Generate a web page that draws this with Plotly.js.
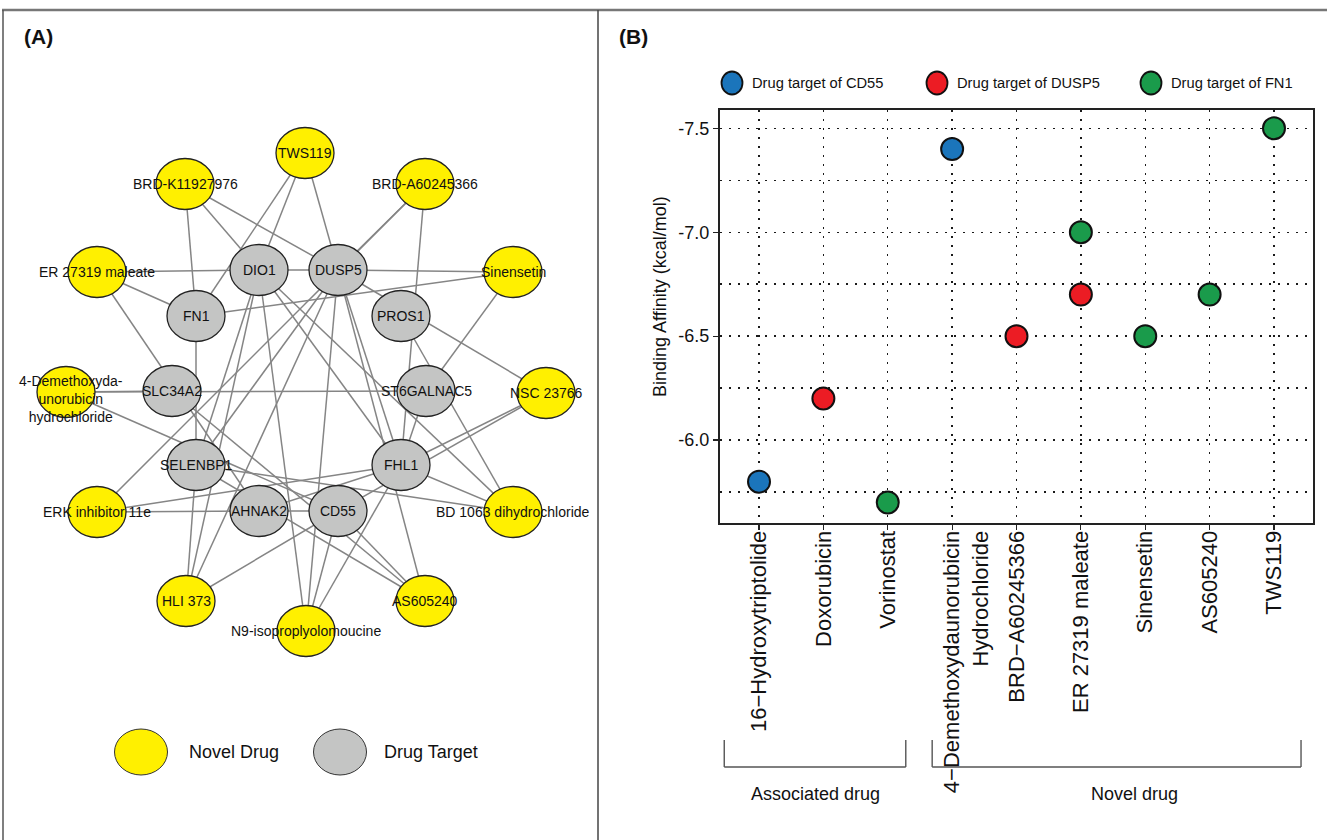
<!DOCTYPE html>
<html>
<head>
<meta charset="utf-8">
<script src="https://cdn.plot.ly/plotly-3.0.1.min.js"></script>
<style>html,body{margin:0;padding:0;background:#fff}#chart{width:1327px;height:840px}</style>
</head>
<body>
<div id="chart"></div>
<script>
// ================= DATA =================
// ---- Panel A: drug / target network ----
const nodeNames = ['TWS119','BRD-K11927976','BRD-A60245366','ER 27319 maleate','Sinensetin',
  '4-Demethoxydaunorubicin hydrochloride','NSC 23766','ERK inhibitor 11e','BD 1063 dihydrochloride',
  'HLI 373','AS605240','N9-isoproplyolomoucine',
  'DIO1','DUSP5','FN1','PROS1','SLC34A2','ST6GALNAC5','SELENBP1','FHL1','AHNAK2','CD55'];
const nodeLabels = ['TWS119','BRD-K11927976','BRD-A60245366','ER 27319 maleate','Sinensetin',
  '4-Demethoxyda-<br>unorubicin<br>hydrochloride','NSC 23766','ERK inhibitor 11e','BD 1063 dihydrochloride',
  'HLI 373','AS605240','N9-isoproplyolomoucine',
  'DIO1','DUSP5','FN1','PROS1','SLC34A2','ST6GALNAC5','SELENBP1','FHL1','AHNAK2','CD55'];
const nodeTypes = ['drug','drug','drug','drug','drug','drug','drug','drug','drug','drug','drug','drug',
  'target','target','target','target','target','target','target','target','target','target'];
// network layout coordinates (layout space, same units as panel A pixels)
const nodeX = [305,185,425,97,513,66,546,97,513,186,425,306, 259,338,196,401,172,426,196,401,259,338];
const nodeY = [153,184,184,272,272,392,393,512,512,601,601,631, 270,270,316,316,391,391,465,465,511,511];

const edgeFrom = ['BRD-K11927976','BRD-K11927976','BRD-K11927976','TWS119','TWS119','TWS119',
  'BRD-A60245366','BRD-A60245366','BRD-A60245366','ER 27319 maleate','ER 27319 maleate','ER 27319 maleate',
  'Sinensetin','Sinensetin','Sinensetin','DIO1','DUSP5','PROS1',
  '4-Demethoxydaunorubicin hydrochloride','4-Demethoxydaunorubicin hydrochloride','4-Demethoxydaunorubicin hydrochloride',
  'FN1','DIO1','DUSP5','DUSP5','DIO1','DUSP5','ERK inhibitor 11e','ERK inhibitor 11e','AHNAK2',
  'SELENBP1','HLI 373','DUSP5','DUSP5','DIO1','ST6GALNAC5','NSC 23766','NSC 23766','FHL1',
  'FHL1','FHL1','CD55','CD55','SLC34A2','DIO1','SELENBP1','SELENBP1','DIO1'];
const edgeTo = ['FN1','DIO1','DUSP5','FN1','DIO1','DUSP5',
  'DUSP5','ERK inhibitor 11e','FHL1','DIO1','FN1','AHNAK2',
  'DUSP5','FN1','ST6GALNAC5','DUSP5','NSC 23766','BD 1063 dihydrochloride',
  'SLC34A2','ST6GALNAC5','CD55',
  'SELENBP1','SELENBP1','SELENBP1','HLI 373','N9-isoproplyolomoucine','N9-isoproplyolomoucine','FHL1','AHNAK2','CD55',
  'HLI 373','CD55','FHL1','AS605240','FHL1','FHL1','FHL1','CD55','AHNAK2',
  'BD 1063 dihydrochloride','N9-isoproplyolomoucine','N9-isoproplyolomoucine','AS605240','AS605240',
  'BD 1063 dihydrochloride','BD 1063 dihydrochloride','AS605240','HLI 373'];

// ---- Panel B: binding affinity ----
const drugCategories = ['16\u2212Hydroxytriptolide','Doxorubicin','Vorinostat',
  '4\u2212Demethoxydaunorubicin Hydrochloride','BRD\u2212A60245366','ER 27319 maleate',
  'Sinensetin','AS605240','TWS119'];
const drugTickText = ['16\u2212Hydroxytriptolide','Doxorubicin','Vorinostat',
  '\u00a0<br>4\u2212Demethoxydaunorubicin<br>Hydrochloride','BRD\u2212A60245366','ER 27319 maleate',
  'Sinensetin','AS605240','TWS119'];
const pointDrug = ['16\u2212Hydroxytriptolide','Doxorubicin','Vorinostat',
  '4\u2212Demethoxydaunorubicin Hydrochloride','BRD\u2212A60245366','ER 27319 maleate','ER 27319 maleate',
  'Sinensetin','AS605240','TWS119'];
const pointAffinity = [-5.8,-6.2,-5.7,-7.4,-6.5,-6.7,-7.0,-6.5,-6.7,-7.5];
const pointTarget = ['CD55','DUSP5','FN1','CD55','DUSP5','DUSP5','FN1','FN1','FN1','FN1'];
const targetNames = ['CD55','DUSP5','FN1'];
const yTickVals = [-7.5,-7.0,-6.5,-6.0];
const yTickText = ['-7.5','-7.0','-6.5','-6.0'];
const groupLabels = ['Associated drug','Novel drug'];
const groupFirst = [0,3];
const groupLast = [2,8];

// ================= STYLE =================
const W = 1327, H = 840;
const FONT = 'Liberation Sans, Arial, Helvetica, sans-serif';
const YELLOW = '#FFF000', GRAY = '#C4C5C4';
const targetColors = ['#1B75BB','#EC1C24','#1A9B4B'];
const NODE_RX = 29, NODE_RY = 25.5;
const GRID = {color:'#1a1a1a', dash:'2px,7px', width:1.4};
const px = x => x / W, py = y => 1 - y / H;

const traces = [];
const shapes = [];
const annotations = [];

// ---- Panel A edges ----
const idx = n => nodeNames.indexOf(n);
const ex = [], ey = [];
edgeFrom.forEach((f, i) => {
  const a = idx(f), b = idx(edgeTo[i]);
  if (a < 0 || b < 0) return;
  ex.push(nodeX[a], nodeX[b], null);
  ey.push(nodeY[a], nodeY[b], null);
});
traces.push({type:'scatter', mode:'lines', x:ex, y:ey, xaxis:'x2', yaxis:'y2',
  line:{color:'#858585', width:1.5}, hoverinfo:'skip', showlegend:false});

// ---- Panel A nodes ----
const labelShift = {'4-Demethoxydaunorubicin hydrochloride':[5,-7]};
nodeNames.forEach((n, i) => {
  shapes.push({type:'circle', xref:'x2', yref:'y2', layer:'above',
    x0:nodeX[i]-NODE_RX, x1:nodeX[i]+NODE_RX, y0:nodeY[i]-NODE_RY, y1:nodeY[i]+NODE_RY,
    fillcolor: nodeTypes[i]==='drug' ? YELLOW : GRAY, line:{color:'#222', width:1.3}});
  const s = labelShift[n] || [0,0];
  annotations.push({xref:'x2', yref:'y2', x:nodeX[i], y:nodeY[i], text:nodeLabels[i], showarrow:false,
    xanchor:'center', yanchor:'middle',
    xshift:s[0], yshift:s[1], font:{family:FONT, size:14, color:'#111'}, align:'center'});
});

// ---- Panel B scatter ----
targetNames.forEach((t, k) => {
  const xs = [], ys = [];
  pointTarget.forEach((pt, i) => { if (pt === t) { xs.push(pointDrug[i]); ys.push(pointAffinity[i]); } });
  traces.push({type:'scatter', mode:'markers', x:xs, y:ys, xaxis:'x', yaxis:'y',
    name:'Drug target of ' + t, cliponaxis:false, showlegend:false,
    marker:{color:targetColors[k], size:22, line:{color:'#111', width:2}}, hoverinfo:'x+y'});
});

// panel B legend (drawn as key symbols + text so it cannot push the margins)
const legendCX = [732, 937, 1151], LEG_Y = 83;
targetNames.forEach((t, k) => {
  shapes.push({type:'circle', xref:'paper', yref:'paper',
    x0:px(legendCX[k]-10.5), x1:px(legendCX[k]+10.5), y0:py(LEG_Y+11.5), y1:py(LEG_Y-11.5),
    fillcolor:targetColors[k], line:{color:'#111', width:1.8}});
  annotations.push({xref:'paper', yref:'paper', x:px(legendCX[k]+18), y:py(LEG_Y), xanchor:'left', yanchor:'middle',
    text:'Drug target of ' + t, showarrow:false, font:{family:FONT, size:14.7, color:'#111'}});
});

// y-axis title (placed as rotated text)
annotations.push({xref:'paper', yref:'paper', x:px(660), y:py(297), xanchor:'center', yanchor:'middle',
  textangle:-90, text:'Binding Affinity (kcal/mol)', showarrow:false, font:{family:FONT, size:18, color:'#111'}});

// minor grid positions (between major ticks)
const minorVals = [];
for (let i = 0; i < yTickVals.length; i++) {
  const step = (yTickVals[1]-yTickVals[0]);
  minorVals.push(yTickVals[i] + step/2);
}

// ---- brackets under the category axis ----
const BR_TOP = py(740), BR_BOT = py(767);
const bracketPadL = [0.54, 0.31], bracketPadR = [0.28, 0.42], bracketLabelShift = [0, 0.28];
groupLabels.forEach((g, k) => {
  const a = groupFirst[k] - bracketPadL[k], b = groupLast[k] + bracketPadR[k];
  const ln = {color:'#555', width:1.4};
  shapes.push({type:'line', xref:'x', yref:'paper', x0:a, x1:a, y0:BR_TOP, y1:BR_BOT, line:ln});
  shapes.push({type:'line', xref:'x', yref:'paper', x0:b, x1:b, y0:BR_TOP, y1:BR_BOT, line:ln});
  shapes.push({type:'line', xref:'x', yref:'paper', x0:a, x1:b, y0:BR_BOT, y1:BR_BOT, line:ln});
  annotations.push({xref:'x', yref:'paper', x:(a+b)/2 + bracketLabelShift[k], y:py(794),
    xanchor:'center', yanchor:'middle',
    text:g, showarrow:false, font:{family:FONT, size:18, color:'#111'}});
});

// ---- frames ----
shapes.push({type:'line', xref:'paper', yref:'paper', x0:px(2), x1:px(1327), y0:py(10), y1:py(10), line:{color:'#777', width:2.5}});
shapes.push({type:'line', xref:'paper', yref:'paper', x0:px(3), x1:px(3), y0:py(10), y1:py(840), line:{color:'#555', width:1.5}});
shapes.push({type:'line', xref:'paper', yref:'paper', x0:px(598), x1:px(598), y0:py(10), y1:py(840), line:{color:'#444', width:1.5}});

// panel labels
annotations.push({xref:'paper', yref:'paper', x:px(22), y:py(37), xanchor:'left', yanchor:'middle', text:'<b>(A)</b>', showarrow:false, font:{family:FONT, size:21, color:'#111'}});
annotations.push({xref:'paper', yref:'paper', x:px(617), y:py(37), xanchor:'left', yanchor:'middle', text:'<b>(B)</b>', showarrow:false, font:{family:FONT, size:21, color:'#111'}});

// panel A legend
[['Novel Drug', YELLOW, 141, 187], ['Drug Target', GRAY, 340, 382]].forEach(([t, c, cx, tx]) => {
  shapes.push({type:'circle', xref:'paper', yref:'paper', x0:px(cx-26.5), x1:px(cx+26.5), y0:py(752+23), y1:py(752-23),
    fillcolor:c, line:{color:'#333', width:1}});
  annotations.push({xref:'paper', yref:'paper', x:px(tx), y:py(752), xanchor:'left', yanchor:'middle', text:t, showarrow:false,
    font:{family:FONT, size:18, color:'#111'}});
});

const layout = {
  width: W, height: H, autosize:false,
  margin:{l:0, r:0, t:0, b:0, pad:0},
  paper_bgcolor:'#fff', plot_bgcolor:'#fff',
  font:{family:FONT, color:'#111'},
  showlegend:false,
  xaxis:{domain:[px(720), px(1313)], anchor:'y', type:'category', categoryorder:'array',
    categoryarray:drugCategories, range:[-0.606, 8.606],
    tickmode:'array', tickvals:drugCategories, ticktext:drugTickText,
    showgrid:true, gridcolor:GRID.color, griddash:GRID.dash, gridwidth:GRID.width,
    showline:true, mirror:true, linecolor:'#222', linewidth:2, zeroline:false,
    ticks:'outside', ticklen:5, tickcolor:'#222', tickwidth:1.2, tickangle:-90,
    ticklabelstandoff:-8,
    tickfont:{family:FONT, size:22, color:'#111'}, fixedrange:true, automargin:false},
  yaxis:{domain:[py(523), py(110)], anchor:'x', range:[-5.601, -7.588],
    tickmode:'array', tickvals:yTickVals, ticktext:yTickText,
    showgrid:true, gridcolor:GRID.color, griddash:GRID.dash, gridwidth:GRID.width,
    minor:{tickmode:'array', tickvals:minorVals, showgrid:true, gridcolor:GRID.color, griddash:GRID.dash, gridwidth:GRID.width, ticks:''},
    showline:true, mirror:true, linecolor:'#222', linewidth:2, zeroline:false,
    ticks:'outside', ticklen:5, tickcolor:'#222', tickwidth:1.2,
    tickfont:{family:FONT, size:18, color:'#111'},
    fixedrange:true, automargin:false},
  xaxis2:{domain:[0, px(598)], anchor:'y2', range:[0, 598], visible:false, fixedrange:true},
  yaxis2:{domain:[0, 1], anchor:'x2', range:[840, 0], visible:false, fixedrange:true},
  shapes: shapes,
  annotations: annotations
};

Plotly.newPlot('chart', traces, layout, {displayModeBar:false, staticPlot:true});
</script>
</body>
</html>
